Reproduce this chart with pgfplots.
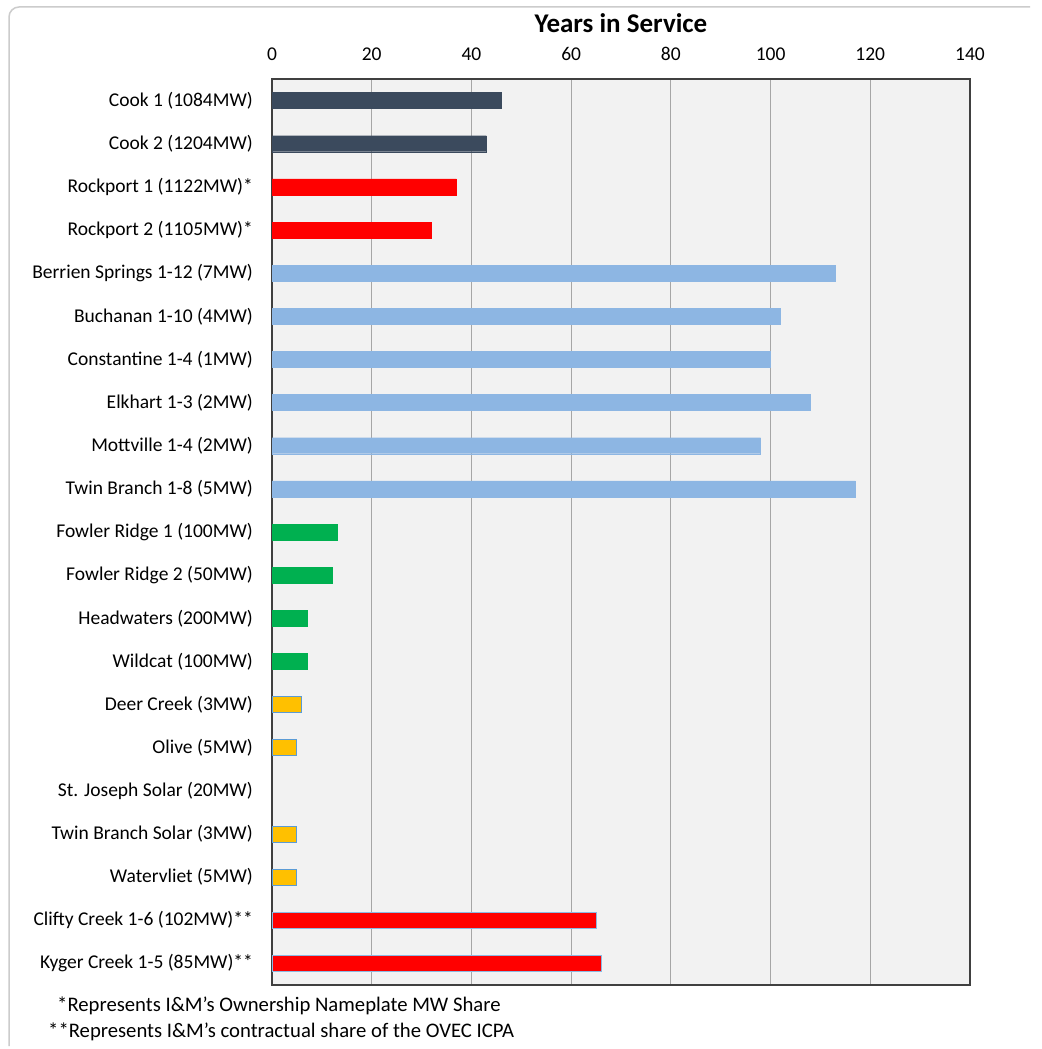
\documentclass[border=0pt]{standalone}
\usepackage{pgfplots}
\pgfplotsset{compat=1.18}
\usepackage{fontspec}
\setmainfont{Carlito}
\definecolor{cookc}{HTML}{3B4A5D}
\definecolor{redc}{HTML}{FF0000}
\definecolor{hydroc}{HTML}{8DB6E3}
\definecolor{windc}{HTML}{00B050}
\definecolor{solarc}{HTML}{FFC000}
\definecolor{edgec}{HTML}{5B9BD5}
\begin{document}
\begin{tikzpicture}[x=1pt,y=1pt]
\path[fill=white] (0,0) rectangle (1041,-1049);
\draw[gray!40, line width=1.5pt, rounded corners=10pt] (9,-1046) -- (9,-7) -- (1030,-7);
\begin{axis}[
  at={(272pt,-79pt)}, anchor=north west,
  scale only axis, width=698pt, height=906pt,
  xmin=0, xmax=140, xtick={0,20,...,140},
  xticklabel pos=upper,
  ymin=-0.5, ymax=20.5, y dir=reverse,
  ytick={0,...,20},
  yticklabels={Cook 1 (1084MW),Cook 2 (1204MW),Rockport 1 (1122MW)*,Rockport 2 (1105MW)*,Berrien Springs 1-12 (7MW),Buchanan 1-10 (4MW),Constantine 1-4 (1MW),Elkhart 1-3 (2MW),Mottville 1-4 (2MW),Twin Branch 1-8 (5MW),Fowler Ridge 1 (100MW),Fowler Ridge 2 (50MW),Headwaters (200MW),Wildcat (100MW),Deer Creek (3MW),Olive (5MW),St. Joseph Solar (20MW),Twin Branch Solar (3MW),Watervliet (5MW),Clifty Creek 1-6 (102MW)**,Kyger Creek 1-5 (85MW)**},
  major tick length=0pt,
  xmajorgrids, grid style={black!35, line width=0.9pt},
  axis line style={black!75, line width=1.4pt},
  axis background/.style={fill=black!5},
  xbar, bar width=16pt, bar shift=0pt,
  tick label style={font=\fontsize{19.5}{22}\selectfont},
  /pgf/number format/assume math mode=true,
  xticklabel style={anchor=base, yshift=19pt},
  yticklabel style={anchor=east, inner sep=0pt, xshift=-19pt},
  title={Years in Service},
  title style={at={(0.5,1)}, anchor=base, yshift=41pt, inner sep=0pt, font=\bfseries\fontsize{27}{30}\selectfont},
]
\addplot[fill=cookc, draw=cookc] coordinates {(46,0) (43,1)};
\addplot[fill=redc, draw=redc] coordinates {(37,2) (32,3)};
\addplot[fill=hydroc, draw=hydroc] coordinates {(113,4) (102,5) (100,6) (108,7) (98,8) (117,9)};
\addplot[fill=windc, draw=windc] coordinates {(13,10) (12,11) (7,12) (7,13)};
\addplot[fill=solarc, draw=edgec, line width=0.9pt] coordinates {(6,14) (5,15) (5,17) (5,18)};
\addplot[fill=redc, draw=edgec!70, line width=0.9pt] coordinates {(65,19) (66,20)};
\end{axis}
\node[anchor=base west, inner sep=0pt, font=\fontsize{20.7}{23}\selectfont] at (57,-1011) {*Represents I\&M's Ownership Nameplate MW Share};
\node[anchor=base west, inner sep=0pt, font=\fontsize{20.7}{23}\selectfont] at (48,-1037) {**Represents I\&M's contractual share of the OVEC ICPA};
\end{tikzpicture}
\end{document}
